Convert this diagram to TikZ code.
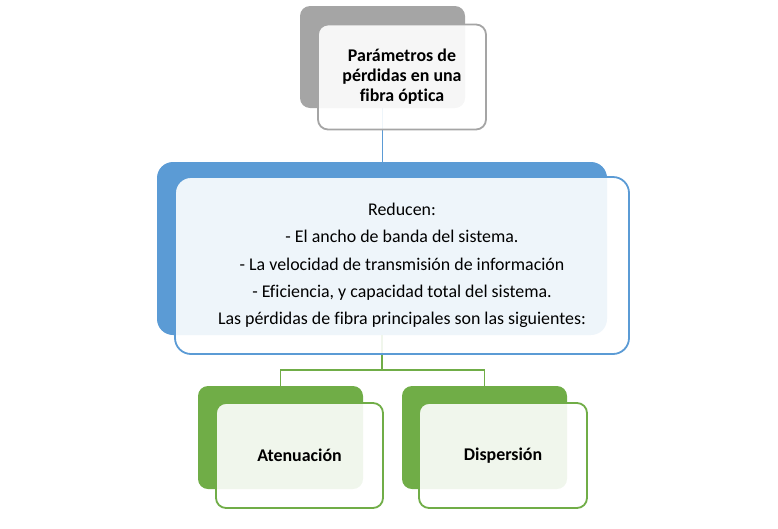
\documentclass[tikz,border=0pt]{standalone}
\usepackage{fontspec}
\setmainfont{Carlito}[Ligatures={NoCommon}]
\definecolor{gris}{HTML}{A5A5A5}
\definecolor{azul}{HTML}{5B9BD5}
\definecolor{verde}{HTML}{70AD47}

\begin{document}
\begin{tikzpicture}[x=1pt, y=-1pt,
    fondo/.style={rectangle, rounded corners=10pt, inner sep=0pt, fill=#1},
    frente/.style={rectangle, rounded corners=10pt, inner sep=0pt, draw=#1, line width=1.8pt,
        fill=white, fill opacity=.9, text opacity=1, align=center},
    enlace/.style={draw=#1, line width=1.8pt}] %1pt = 1px de la imagen
    \useasboundingbox (0,0) rectangle (778,528);
    %cajas de fondo (color lleno)
    \node[fondo=gris, minimum width=165pt, minimum height=102pt] (raizF) at (382.5,57) {};
    \node[fondo=azul, minimum width=450pt, minimum height=173pt, rounded corners=16pt] (medioF) at (382,248.5) {};
    \node[fondo=verde, minimum width=165pt, minimum height=103pt] (atenF) at (280.5,437.5) {};
    \node[fondo=verde, minimum width=165pt, minimum height=103pt] (dispF) at (484.5,437.5) {};
    %conectores, quedan debajo de las cajas de frente
    \draw[enlace=azul] (raizF.south) -- (raizF.south |- medioF.north);
    \coordinate (union) at (382,370);
    \draw[enlace=verde] (medioF.south) -- (union);
    \draw[enlace=verde] (atenF.north) |- (union) -| (dispF.north);
    %cajas de frente con el texto
    \node[frente=gris, minimum width=168pt, minimum height=105pt,
        font=\bfseries\fontsize{17.9}{20}\selectfont] (raiz) at (402,77)
        {Parámetros de\\pérdidas en una\\fibra óptica};
    \node[frente=azul, minimum width=454pt, minimum height=177pt, rounded corners=16pt,
        font=\fontsize{17.9}{27.3}\selectfont] (medio) at (402,265.5)
        {Reducen:\\- El ancho de banda del sistema.\\- La velocidad de transmisión de información\\- Eficiencia, y capacidad total del sistema.\\Las pérdidas de fibra principales son las siguientes:};
    \node[frente=verde, minimum width=167pt, minimum height=105pt,
        font=\bfseries\fontsize{17.9}{20}\selectfont] (aten) at (299.5,455.5) {Atenuación};
    \node[frente=verde, minimum width=168pt, minimum height=105pt,
        font=\bfseries\fontsize{17.9}{20}\selectfont] (disp) at (503,455.5) {Dispersión};
\end{tikzpicture}
\end{document}
